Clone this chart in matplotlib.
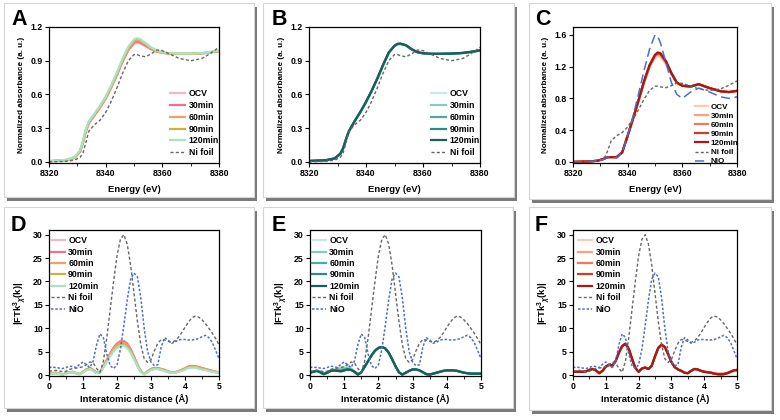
import matplotlib
matplotlib.use('Agg')
import matplotlib.pyplot as plt
from matplotlib.patches import Rectangle
from matplotlib.ticker import MultipleLocator, FormatStrFormatter

plt.rcParams['font.family'] = ['Liberation Sans', 'DejaVu Sans']
plt.rcParams['font.weight'] = 'bold'
plt.rcParams['axes.labelweight'] = 'bold'
plt.rcParams['mathtext.fontset'] = 'custom'
plt.rcParams['mathtext.rm'] = 'Liberation Sans:bold'
plt.rcParams['mathtext.it'] = 'Liberation Sans:italic:bold'
plt.rcParams['mathtext.bf'] = 'Liberation Sans:bold'

W, H = 780, 420

# ── XANES energy grid (eV) ──────────────────────────────────────────────────
E = [8320, 8326, 8329, 8331, 8332, 8333, 8334, 8336, 8338, 8340, 8342, 8344,
     8346, 8348, 8350, 8351, 8352, 8354, 8356, 8358, 8360, 8363, 8366, 8370,
     8374, 8377, 8380]

NI_FOIL_E = [0.0, 0.005, 0.015, 0.04, 0.08, 0.17, 0.27, 0.33, 0.37, 0.44, 0.54, 0.66,
             0.79, 0.90, 0.955, 0.955, 0.945, 0.935, 0.96, 0.995, 0.99, 0.955, 0.92, 0.90,
             0.92, 0.965, 1.02]
NIO_E = [0.0, 0.005, 0.015, 0.03, 0.045, 0.06, 0.055, 0.05, 0.12, 0.33, 0.58, 0.86,
         1.15, 1.42, 1.60, 1.58, 1.50, 1.25, 1.00, 0.85, 0.80, 0.88, 0.93, 0.88,
         0.82, 0.80, 0.82]

A_SAMPLES = [
    [0.005, 0.015, 0.035, 0.09, 0.17, 0.27, 0.34, 0.41, 0.48, 0.56, 0.66, 0.77,
     0.89, 0.99, 1.05, 1.06, 1.055, 1.03, 1.00, 0.98, 0.97, 0.96, 0.96, 0.96, 0.965, 0.975, 0.985],
    [0.005, 0.015, 0.036, 0.092, 0.172, 0.272, 0.343, 0.414, 0.484, 0.565, 0.665, 0.776,
     0.897, 0.998, 1.06, 1.07, 1.065, 1.035, 1.005, 0.982, 0.971, 0.961, 0.96, 0.96, 0.965, 0.975, 0.985],
    [0.006, 0.016, 0.038, 0.095, 0.176, 0.277, 0.347, 0.418, 0.489, 0.57, 0.671, 0.783,
     0.905, 1.008, 1.073, 1.085, 1.078, 1.045, 1.01, 0.985, 0.973, 0.962, 0.961, 0.961, 0.966, 0.976, 0.986],
    [0.006, 0.017, 0.04, 0.098, 0.18, 0.282, 0.352, 0.423, 0.494, 0.576, 0.677, 0.79,
     0.913, 1.017, 1.083, 1.095, 1.088, 1.052, 1.015, 0.988, 0.975, 0.963, 0.962, 0.962, 0.967, 0.977, 0.987],
    [0.007, 0.018, 0.042, 0.102, 0.186, 0.29, 0.358, 0.428, 0.499, 0.581, 0.683, 0.797,
     0.92, 1.025, 1.09, 1.10, 1.094, 1.058, 1.02, 0.99, 0.977, 0.965, 0.963, 0.963, 0.968, 0.978, 0.988],
]
B_SAMPLES = [
    [0.008, 0.015, 0.03, 0.07, 0.12, 0.20, 0.27, 0.36, 0.44, 0.53, 0.63, 0.74,
     0.86, 0.97, 1.03, 1.045, 1.048, 1.035, 1.00, 0.975, 0.965, 0.96, 0.96, 0.962, 0.968, 0.978, 0.99],
    [0.008, 0.015, 0.03, 0.071, 0.121, 0.201, 0.271, 0.361, 0.441, 0.531, 0.631, 0.741,
     0.861, 0.971, 1.031, 1.046, 1.049, 1.036, 1.00, 0.975, 0.965, 0.96, 0.96, 0.962, 0.968, 0.978, 0.99],
    [0.008, 0.015, 0.031, 0.072, 0.122, 0.202, 0.272, 0.362, 0.442, 0.532, 0.632, 0.742,
     0.862, 0.972, 1.032, 1.047, 1.05, 1.037, 1.001, 0.976, 0.966, 0.961, 0.961, 0.963, 0.969, 0.979, 0.99],
    [0.008, 0.015, 0.031, 0.072, 0.122, 0.202, 0.272, 0.362, 0.443, 0.533, 0.633, 0.743,
     0.863, 0.973, 1.033, 1.048, 1.051, 1.038, 1.002, 0.976, 0.966, 0.961, 0.961, 0.963, 0.969, 0.979, 0.991],
    [0.008, 0.015, 0.031, 0.073, 0.123, 0.203, 0.273, 0.363, 0.444, 0.534, 0.634, 0.744,
     0.864, 0.974, 1.034, 1.05, 1.053, 1.039, 1.003, 0.977, 0.967, 0.962, 0.962, 0.964, 0.97, 0.98, 0.992],
]
C_SAMPLES = [
    [0.0, 0.005, 0.015, 0.035, 0.05, 0.06, 0.06, 0.06, 0.12, 0.32, 0.54, 0.76,
     0.99, 1.18, 1.31, 1.33, 1.32, 1.23, 1.10, 0.99, 0.955, 0.95, 0.975, 0.93, 0.89, 0.88, 0.895],
    [0.0, 0.005, 0.015, 0.035, 0.05, 0.06, 0.06, 0.06, 0.12, 0.325, 0.545, 0.77,
     1.00, 1.20, 1.33, 1.35, 1.34, 1.25, 1.11, 0.995, 0.957, 0.95, 0.977, 0.93, 0.89, 0.88, 0.895],
    [0.0, 0.005, 0.015, 0.035, 0.05, 0.06, 0.06, 0.06, 0.12, 0.33, 0.55, 0.775,
     1.01, 1.21, 1.34, 1.36, 1.355, 1.26, 1.115, 0.997, 0.958, 0.95, 0.978, 0.93, 0.89, 0.88, 0.895],
    [0.0, 0.005, 0.015, 0.035, 0.05, 0.06, 0.06, 0.06, 0.12, 0.33, 0.55, 0.78,
     1.015, 1.215, 1.345, 1.37, 1.362, 1.265, 1.118, 0.999, 0.959, 0.95, 0.979, 0.93, 0.89, 0.88, 0.895],
    [0.0, 0.005, 0.015, 0.035, 0.05, 0.06, 0.06, 0.06, 0.12, 0.33, 0.55, 0.78,
     1.02, 1.22, 1.35, 1.38, 1.37, 1.27, 1.12, 1.00, 0.96, 0.95, 0.98, 0.93, 0.89, 0.88, 0.895],
]

# ── FT-EXAFS R grid (Å) ─────────────────────────────────────────────────────
R = [0.0, 0.1, 0.2, 0.3, 0.4, 0.5, 0.6, 0.7, 0.8, 0.9, 1.0, 1.1, 1.2, 1.3, 1.4, 1.5, 1.6,
     1.7, 1.8, 1.9, 2.0, 2.1, 2.2, 2.3, 2.4, 2.5, 2.6, 2.7, 2.8, 2.9, 3.0, 3.1, 3.2, 3.3,
     3.4, 3.5, 3.6, 3.7, 3.8, 3.9, 4.0, 4.1, 4.2, 4.3, 4.4, 4.5, 4.6, 4.7, 4.8, 4.9, 5.0]

NI_FOIL_R = [0.8, 0.9, 1.0, 0.9, 0.7, 0.8, 1.2, 1.4, 1.5, 1.6, 1.8, 2.2, 2.8, 2.6, 1.4, 0.6, 3.0,
             8.0, 14.0, 20.0, 25.5, 29.0, 30.0, 28.0, 23.5, 17.5, 11.5, 6.5, 3.5, 2.7, 3.3, 5.2, 6.8, 7.6,
             7.5, 7.2, 7.0, 7.3, 8.0, 9.0, 10.2, 11.3, 12.2, 12.6, 12.4, 11.8, 11.0, 10.0, 9.0, 7.8, 6.5]
NIO_R = [1.6, 1.7, 1.6, 1.5, 1.4, 1.6, 1.9, 1.8, 1.6, 2.3, 2.8, 2.2, 1.6, 3.0, 6.5, 8.8, 8.0,
         4.5, 2.0, 1.4, 2.2, 5.5, 10.5, 16.0, 20.5, 21.8, 21.0, 16.5, 10.0, 5.0, 2.8, 2.0, 2.2, 6.0,
         8.0, 7.5, 6.8, 7.0, 7.5, 7.6, 7.6, 7.5, 7.5, 7.6, 7.8, 8.2, 8.5, 8.0, 7.0, 5.3, 3.5]

D_SAMPLES = [
    [0.3, 0.4, 0.5, 0.3, 0.1, 0.4, 0.6, 0.7, 0.4, 0.2, 0.7, 1.2, 1.5, 1.1, 0.5, 0.6, 1.9,
     3.3, 4.7, 5.9, 6.8, 7.3, 7.3, 6.8, 5.6, 4.0, 2.3, 0.8, 0.2, 0.8, 1.3, 1.5, 1.5, 1.3,
     1.1, 0.8, 0.6, 0.6, 0.8, 1.1, 1.5, 1.8, 2.0, 1.9, 1.7, 1.5, 1.3, 1.1, 0.9, 0.7, 0.6],
    [0.3, 0.4, 0.5, 0.3, 0.1, 0.4, 0.6, 0.7, 0.4, 0.2, 0.7, 1.2, 1.5, 1.1, 0.5, 0.6, 1.9,
     3.2, 4.6, 5.8, 6.7, 7.2, 7.2, 6.7, 5.5, 3.9, 2.2, 0.8, 0.2, 0.8, 1.3, 1.5, 1.5, 1.3,
     1.1, 0.8, 0.6, 0.6, 0.8, 1.1, 1.4, 1.8, 1.9, 1.9, 1.7, 1.5, 1.3, 1.1, 0.9, 0.7, 0.6],
    [0.3, 0.4, 0.4, 0.3, 0.1, 0.4, 0.6, 0.6, 0.4, 0.2, 0.7, 1.1, 1.4, 1.0, 0.5, 0.6, 1.8,
     3.1, 4.4, 5.6, 6.4, 6.9, 6.9, 6.4, 5.2, 3.7, 2.1, 0.7, 0.2, 0.7, 1.2, 1.4, 1.4, 1.2,
     1.0, 0.7, 0.5, 0.6, 0.8, 1.0, 1.4, 1.7, 1.8, 1.8, 1.6, 1.4, 1.2, 1.0, 0.8, 0.7, 0.6],
    [0.3, 0.3, 0.4, 0.3, 0.1, 0.4, 0.5, 0.6, 0.4, 0.2, 0.6, 1.1, 1.3, 1.0, 0.5, 0.6, 1.7,
     3.0, 4.2, 5.3, 6.1, 6.6, 6.6, 6.1, 5.0, 3.5, 2.0, 0.7, 0.2, 0.7, 1.2, 1.3, 1.3, 1.2,
     1.0, 0.7, 0.5, 0.5, 0.7, 1.0, 1.3, 1.6, 1.7, 1.7, 1.5, 1.3, 1.1, 1.0, 0.8, 0.6, 0.5],
    [0.3, 0.3, 0.4, 0.2, 0.1, 0.3, 0.5, 0.6, 0.4, 0.2, 0.6, 1.0, 1.3, 0.9, 0.4, 0.6, 1.6,
     2.8, 4.0, 5.1, 5.8, 6.3, 6.3, 5.8, 4.8, 3.4, 1.9, 0.6, 0.2, 0.6, 1.1, 1.3, 1.3, 1.1,
     0.9, 0.7, 0.5, 0.5, 0.7, 0.9, 1.2, 1.5, 1.6, 1.6, 1.4, 1.2, 1.1, 0.9, 0.7, 0.6, 0.5],
]
E_SAMPLES = [
    [0.6, 0.8, 1.0, 0.7, 0.3, 0.6, 1.0, 1.2, 1.4, 1.6, 1.8, 1.8, 1.5, 0.9, 0.2, 0.6, 1.8,
     3.0, 4.2, 5.2, 5.8, 6.0, 5.7, 4.8, 3.4, 1.9, 0.6, 0.1, 0.5, 0.9, 1.2, 1.2, 1.0, 0.6,
     0.2, 0.1, 0.3, 0.5, 0.7, 0.9, 1.0, 1.0, 1.0, 0.9, 0.7, 0.5, 0.4, 0.3, 0.3, 0.3, 0.3],
    [0.5, 0.8, 0.9, 0.6, 0.2, 0.5, 0.9, 1.1, 1.2, 1.3, 1.5, 1.5, 1.3, 0.8, 0.2, 0.6, 1.8,
     3.0, 4.2, 5.2, 5.8, 6.0, 5.7, 4.8, 3.4, 1.9, 0.6, 0.1, 0.5, 0.9, 1.2, 1.2, 1.0, 0.6,
     0.2, 0.1, 0.3, 0.5, 0.7, 0.9, 1.0, 1.0, 1.0, 0.9, 0.7, 0.5, 0.4, 0.3, 0.3, 0.3, 0.3],
    [0.5, 0.7, 0.9, 0.6, 0.2, 0.5, 0.9, 1.0, 1.0, 1.0, 1.2, 1.3, 1.1, 0.7, 0.1, 0.6, 1.8,
     3.0, 4.2, 5.2, 5.8, 6.0, 5.7, 4.8, 3.4, 1.9, 0.6, 0.1, 0.5, 0.9, 1.2, 1.2, 1.0, 0.6,
     0.2, 0.1, 0.3, 0.5, 0.7, 0.9, 1.0, 1.0, 1.0, 0.9, 0.7, 0.5, 0.4, 0.3, 0.3, 0.3, 0.3],
    [0.5, 0.7, 0.9, 0.6, 0.2, 0.5, 0.9, 1.0, 0.9, 0.8, 1.0, 1.2, 1.1, 0.7, 0.1, 0.6, 1.8,
     3.0, 4.2, 5.2, 5.8, 6.0, 5.7, 4.8, 3.4, 1.9, 0.6, 0.1, 0.5, 0.9, 1.2, 1.2, 1.0, 0.6,
     0.2, 0.1, 0.3, 0.5, 0.7, 0.9, 1.0, 1.0, 1.0, 0.9, 0.7, 0.5, 0.4, 0.3, 0.3, 0.3, 0.3],
    [0.5, 0.7, 0.9, 0.6, 0.2, 0.5, 0.9, 1.0, 0.9, 0.8, 1.0, 1.2, 1.1, 0.7, 0.1, 0.6, 1.8,
     3.0, 4.2, 5.2, 5.8, 6.0, 5.7, 4.8, 3.4, 1.9, 0.6, 0.1, 0.5, 0.9, 1.2, 1.2, 1.0, 0.6,
     0.2, 0.1, 0.3, 0.5, 0.7, 0.9, 1.0, 1.0, 1.0, 0.9, 0.7, 0.5, 0.4, 0.3, 0.3, 0.3, 0.3],
]
F_SAMPLES = [
    [0.7, 0.7, 0.7, 0.7, 0.8, 1.1, 1.3, 1.0, 0.4, 0.9, 1.8, 2.2, 2.0, 3.0, 4.8, 6.2, 6.7,
     5.6, 3.5, 1.5, 0.7, 1.4, 1.6, 1.3, 2.0, 4.0, 5.8, 6.5, 6.0, 4.5, 2.8, 1.7, 1.2, 0.9,
     0.5, 0.4, 0.9, 1.3, 1.2, 0.9, 0.8, 0.7, 0.6, 0.5, 0.4, 0.4, 0.4, 0.5, 0.6, 0.8, 0.9],
    [0.7, 0.7, 0.7, 0.7, 0.8, 1.1, 1.3, 1.0, 0.4, 0.9, 1.8, 2.2, 2.0, 3.0, 4.8, 6.2, 6.7,
     5.6, 3.5, 1.5, 0.7, 1.4, 1.6, 1.3, 2.0, 4.0, 5.8, 6.5, 6.0, 4.5, 2.8, 1.7, 1.2, 0.9,
     0.5, 0.4, 0.9, 1.3, 1.2, 0.9, 0.7, 0.6, 0.5, 0.4, 0.3, 0.3, 0.3, 0.4, 0.6, 0.9, 1.0],
    [0.7, 0.7, 0.7, 0.7, 0.8, 1.1, 1.3, 1.0, 0.4, 0.9, 1.8, 2.2, 2.0, 3.0, 4.8, 6.2, 6.7,
     5.6, 3.5, 1.5, 0.7, 1.4, 1.6, 1.3, 2.0, 4.0, 5.8, 6.5, 6.0, 4.5, 2.8, 1.7, 1.2, 0.9,
     0.5, 0.4, 0.9, 1.3, 1.2, 0.9, 0.7, 0.6, 0.5, 0.3, 0.2, 0.2, 0.2, 0.4, 0.7, 1.0, 1.1],
    [0.7, 0.7, 0.7, 0.7, 0.8, 1.1, 1.3, 1.0, 0.4, 0.9, 1.8, 2.2, 2.0, 3.0, 4.8, 6.2, 6.7,
     5.6, 3.5, 1.5, 0.7, 1.4, 1.6, 1.3, 2.0, 4.0, 5.8, 6.5, 6.0, 4.5, 2.8, 1.7, 1.2, 0.9,
     0.5, 0.4, 0.9, 1.3, 1.2, 0.9, 0.7, 0.6, 0.5, 0.3, 0.2, 0.15, 0.2, 0.4, 0.7, 1.0, 1.1],
    [0.7, 0.7, 0.7, 0.7, 0.8, 1.1, 1.3, 1.0, 0.4, 0.9, 1.8, 2.2, 2.0, 3.0, 4.8, 6.2, 6.7,
     5.6, 3.5, 1.5, 0.7, 1.4, 1.6, 1.3, 2.0, 4.0, 5.8, 6.5, 6.0, 4.5, 2.8, 1.7, 1.2, 0.9,
     0.5, 0.4, 0.9, 1.3, 1.2, 0.9, 0.7, 0.6, 0.5, 0.3, 0.2, 0.15, 0.2, 0.4, 0.7, 1.0, 1.1],
]

LABELS = ['OCV', '30min', '60min', '90min', '120min']
PINKS = ['#F4B6CC', '#F0708E', '#F4A064', '#C8B43C', '#A8E4C4']
TEALS = ['#C4ECE6', '#86CCBE', '#4FA89C', '#2F8A80', '#1A5E58']
REDS = ['#F8CDB4', '#F6A486', '#EE7A58', '#D53A22', '#A31A1A']
GRAY = '#666666'
BLUE = '#4F6FC4'


def frame(x0, y0, x1, y1):
    # white panel with a drop shadow, pixel coords from top-left
    fig.patches.append(Rectangle(((x0 + 3) / W, 1 - (y1 + 4) / H), (x1 - x0) / W, (y1 - y0) / H,
                                 transform=fig.transFigure, facecolor='#7a7a7a',
                                 edgecolor='none', zorder=-3))
    fig.patches.append(Rectangle((x0 / W, 1 - y1 / H), (x1 - x0) / W, (y1 - y0) / H,
                                 transform=fig.transFigure, facecolor='white',
                                 edgecolor='#d4d4d4', linewidth=0.8, zorder=-2))


def axes(l, t, r, b):
    ax = fig.add_axes([l / W, 1 - b / H, (r - l) / W, (b - t) / H])
    ax.set_facecolor('none')
    return ax


def style(ax):
    ax.tick_params(direction='out', length=3, width=0.8, labelsize=6.3, pad=1.5)
    ax.tick_params(which='minor', direction='out', length=1.8, width=0.6)
    for s in ax.spines.values():
        s.set_linewidth(0.9)
    for lab in ax.get_xticklabels() + ax.get_yticklabels():
        lab.set_fontweight('bold')


def xanes(ax, samples, colors, nio=False, ymax=1.2, ystep=0.3):
    for y, c, lab in zip(samples, colors, LABELS):
        ax.plot(E, y, color=c, lw=1.6, label=lab)
    ax.plot(E, NI_FOIL_E, color=GRAY, lw=1.0, ls=(0, (2.2, 1.6)), label='Ni foil')
    if nio:
        ax.plot(E, NIO_E, color=BLUE, lw=1.1, ls=(0, (6, 3)), label='NiO')
    ax.set_xlim(8320, 8380)
    ax.set_ylim(-0.01 * ymax / 1.2, ymax)
    ax.xaxis.set_major_locator(MultipleLocator(20))
    ax.xaxis.set_minor_locator(MultipleLocator(10))
    ax.yaxis.set_major_locator(MultipleLocator(ystep))
    ax.yaxis.set_major_formatter(FormatStrFormatter('%.1f'))
    ax.set_xlabel('Energy (eV)', fontsize=6.8, labelpad=5)
    ax.set_ylabel('Normalized absorbance (a. u.)', fontsize=5.9, labelpad=4)
    style(ax)


def ftexafs(ax, samples, colors):
    for y, c, lab in zip(samples, colors, LABELS):
        ax.plot(R, y, color=c, lw=1.6, label=lab)
    ax.plot(R, NI_FOIL_R, color=GRAY, lw=1.0, ls=(0, (2.2, 1.6)), label='Ni foil')
    ax.plot(R, NIO_R, color=BLUE, lw=1.1, ls=(0, (1.6, 1.2)), label='NiO')
    ax.set_xlim(0, 5)
    ax.set_ylim(-0.2, 31)
    ax.xaxis.set_major_locator(MultipleLocator(1))
    ax.xaxis.set_minor_locator(MultipleLocator(0.5))
    ax.yaxis.set_major_locator(MultipleLocator(5))
    ax.set_xlabel('Interatomic distance (\u00c5)', fontsize=6.8, labelpad=2)
    ax.set_ylabel(r'|FTk$^{3}{}_{\chi}$(k)|', fontsize=6.8, labelpad=3)
    style(ax)


def legend(ax, loc, anchor, size, spacing, hlen):
    leg = ax.legend(loc=loc, bbox_to_anchor=anchor, frameon=False, fontsize=size,
                    handlelength=hlen, handletextpad=0.4, labelspacing=spacing,
                    borderaxespad=0.0, borderpad=0.2)
    for t in leg.get_texts():
        t.set_fontweight('bold')


fig = plt.figure(figsize=(W / 100, H / 100), dpi=100)
fig.patch.set_facecolor('white')

# panel frames
frame(4, 3, 254, 197)
frame(263, 3, 514, 197)
frame(529, 3, 771, 199)
frame(4, 207, 254, 408)
frame(263, 207, 513, 408)
frame(529, 207, 771, 410)

axA = axes(49, 27, 219, 163)
xanes(axA, A_SAMPLES, PINKS)
legend(axA, 'lower right', (1.01, 0.03), 6.3, 0.32, 1.7)

axB = axes(309, 27, 480, 163)
xanes(axB, B_SAMPLES, TEALS)
legend(axB, 'lower right', (1.01, 0.03), 6.3, 0.32, 1.7)

axC = axes(573, 27, 737, 163)
xanes(axC, C_SAMPLES, REDS, nio=True, ymax=1.7, ystep=0.4)
legend(axC, 'lower right', (1.02, -0.03), 5.8, 0.18, 1.6)

axD = axes(49, 230, 219, 376)
ftexafs(axD, D_SAMPLES, PINKS)
legend(axD, 'upper left', (0.0, 0.97), 6.3, 0.28, 1.6)

axE = axes(310, 230, 481, 376)
ftexafs(axE, E_SAMPLES, TEALS)
legend(axE, 'upper left', (0.0, 0.97), 6.3, 0.28, 1.6)

axF = axes(573, 230, 737, 376)
ftexafs(axF, F_SAMPLES, REDS)
legend(axF, 'upper left', (0.02, 0.97), 6.3, 0.28, 1.6)

# panel letters
for letter, px, py in [('A', 11, 25), ('B', 272, 25), ('C', 535, 25),
                       ('D', 11, 231), ('E', 272, 231), ('F', 535, 231)]:
    fig.text(px / W, 1 - py / H, letter, fontsize=15.5, fontweight='bold',
             ha='left', va='baseline')

fig.savefig('out.png', dpi=100, facecolor='white')
